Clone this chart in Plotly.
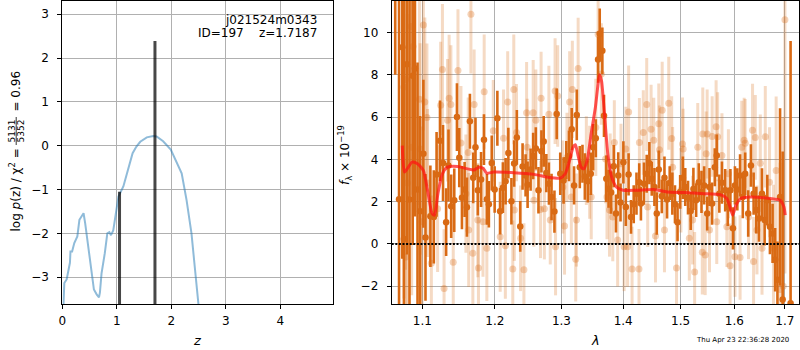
import math
import plotly.graph_objects as go

W, H = 800, 350
FONT = "DejaVu Sans"

# ---------------- left panel: log p(z) ----------------
pz_z = [0.00, 0.018, 0.037, 0.08, 0.14, 0.15, 0.18, 0.22, 0.276, 0.314,
        0.356, 0.39, 0.42, 0.48, 0.54, 0.58, 0.63, 0.673, 0.69, 0.72,
        0.78, 0.826, 0.863, 0.893, 0.935, 0.98, 1.03, 1.12, 1.21, 1.29,
        1.36, 1.43, 1.55, 1.67, 1.73, 1.85, 1.99, 2.10, 2.19, 2.28,
        2.37, 2.43, 2.50, 2.56]
pz_logp = [-4.3, -3.61, -3.13, -3.05, -2.67, -2.41, -2.41, -2.22, -2.07, -1.69,
           -1.62, -1.54, -1.77, -2.30, -2.91, -3.28, -3.39, -3.46, -3.35, -2.91,
           -2.45, -2.00, -1.97, -2.04, -1.93, -1.54, -1.16, -0.93, -0.55, -0.17,
           -0.02, 0.09, 0.19, 0.22, 0.21, 0.10, -0.09, -0.39, -0.63, -1.24,
           -2.00, -2.76, -3.61, -4.4]
peak_z = [1.05, 1.70]
peak_logp = [-1.05, 2.39]

left_xrange = [0, 4.972]
left_yrange = [-3.61, 3.30]
left_xticks = [0, 1, 2, 3, 4]
left_yticks = [-3, -2, -1, 0, 1, 2, 3]

# ---------------- right panel: spectrum ----------------
dark_wave = [1.0648, 1.0697, 1.0739, 1.0760, 1.0798, 1.0832, 1.0874, 1.0903, 1.0937, 1.0971,
             1.1014, 1.1042, 1.1107, 1.1153, 1.1190, 1.1236, 1.1277, 1.1319, 1.1351, 1.1388,
             1.1430, 1.1467, 1.1499, 1.1536, 1.1573, 1.1605, 1.1647, 1.1693, 1.1725, 1.1758,
             1.1804, 1.1845, 1.1887, 1.1915, 1.1956, 1.1998, 1.2037, 1.2077, 1.2117, 1.2157,
             1.2197, 1.2242, 1.2282, 1.2322, 1.2372, 1.2407, 1.2452, 1.2482, 1.2527, 1.2566,
             1.2606, 1.2646, 1.2691, 1.2726, 1.2766, 1.2806, 1.2846, 1.2891, 1.2926, 1.2981,
             1.3033, 1.3076, 1.3118, 1.3161, 1.3198, 1.3241, 1.3289, 1.3332, 1.3370, 1.3418,
             1.3466, 1.3504, 1.3547, 1.3584, 1.3611, 1.3654, 1.3681, 1.3719, 1.3756, 1.3799,
             1.3842, 1.3879, 1.3917, 1.3955, 1.4003, 1.4044, 1.4091, 1.4132, 1.4178, 1.4225,
             1.4272, 1.4301, 1.4354, 1.4401, 1.4447, 1.4488, 1.4535, 1.4576, 1.4611, 1.4664,
             1.4711, 1.4757, 1.4804, 1.4851, 1.4898, 1.4944, 1.4991, 1.5040, 1.5083, 1.5133,
             1.5182, 1.5231, 1.5281, 1.5330, 1.5380, 1.5429, 1.5485, 1.5528, 1.5577, 1.5627,
             1.5664, 1.5713, 1.5762, 1.5824, 1.5873, 1.5923, 1.5972, 1.6010, 1.6056, 1.6109,
             1.6162, 1.6208, 1.6267, 1.6320, 1.6373, 1.6426, 1.6479, 1.6538, 1.6591, 1.6644,
             1.6697, 1.6750, 1.6802, 1.6848, 1.6901, 1.6954, 1.7116]
dark_flux = [14.0, 2.11, 9.3, 0.23, 8.5, 2.1, 7.95, 8.3, 2.58, 1.55,
             4.27, 0.31, 1.31, 1.28, 3.29, 4.88, 3.83, 1.03, 3.71, 1.78,
             2.07, 6.0, 4.08, 2.19, 2.58, 1.74, 5.8, 3.13, 4.57, 2.54,
             3.05, 4.93, 2.11, 1.88, 3.83, 2.57, 5.95, 1.55, 2.66, 2.97,
             4.3, 2.02, 3.8, 5.04, 0.83, 3.66, 3.24, 2.8, 3.52, 4.16,
             4.52, 2.54, 4.38, 4.85, 3.35, 2.85, 2.22, 1.53, 6.15, 3.32,
             3.0, 3.97, 4.16, 5.43, 2.77, 6.1, 3.63, 3.79, 3.19, 2.96,
             3.32, 4.57, 5.0, 8.72, 9.94, 9.14, 6.06, 3.08, 2.61, 2.43,
             3.68, 1.44, 3.24, 1.96, 3.86, 1.75, 3.29, 1.28, 1.88, 2.38,
             2.92, 1.91, 2.85, 3.32, 3.82, 3.08, 2.69, 1.44, 3.52, 2.25,
             3.13, 2.1, 2.88, 2.38, 1.88, 1.03, 2.46, 3.13, 2.69, 2.19,
             1.56, 2.6, 2.07, 2.92, 2.46, 2.77, 1.44, 2.69, 1.91, 3.63,
             4.18, 2.38, 2.9, 2.54, 1.75, 2.54, 0.74, 2.77, 2.58, 3.24,
             2.22, 3.32, 1.44, 3.71, 2.38, 1.6, 1.2, 2.38, 1.13, 2.07,
             0.81, 0.5, -0.75, -1.69, 2.22, -2.63, -2.8]
dark_err = [6.0, 12.0, 10.0, 12.0, 9.0, 10.0, 8.0, 7.0, 6.0, 4.5,
            3.5, 3.0, 2.4, 2.2, 2.0, 1.9, 1.8, 1.6, 1.7, 1.5,
            1.5, 1.6, 1.4, 1.5, 1.3, 1.4, 1.3, 1.2, 1.4, 1.2,
            1.3, 1.2, 1.2, 1.1, 1.3, 1.1, 1.3, 1.1, 1.2, 1.1,
            1.2, 1.1, 1.1, 1.3, 1.2, 1.1, 1.0, 1.1, 1.0, 1.1,
            1.0, 1.1, 1.0, 1.2, 0.9, 1.0, 1.1, 1.0, 1.2, 1.0,
            1.1, 0.9, 1.2, 1.0, 0.9, 1.2, 1.0, 0.9, 1.1, 1.0,
            1.0, 1.1, 0.9, 1.1, 1.2, 1.1, 1.0, 1.1, 0.9, 1.0,
            1.0, 0.9, 1.1, 0.9, 1.0, 0.9, 1.0, 0.8, 0.9, 1.0,
            0.9, 0.8, 1.0, 0.9, 1.0, 0.8, 0.9, 1.0, 0.9, 0.8,
            1.0, 0.9, 0.8, 1.0, 0.9, 0.9, 0.8, 1.0, 0.9, 0.8,
            0.9, 1.0, 0.8, 0.9, 1.0, 0.9, 0.8, 0.9, 1.0, 0.9,
            1.0, 0.9, 1.0, 1.0, 0.9, 1.0, 1.0, 0.9, 1.0, 1.0,
            1.0, 1.0, 1.1, 1.0, 1.0, 1.1, 1.1, 1.2, 1.2, 1.2,
            1.3, 1.4, 1.5, 1.8, 4.2, 7.0, 12.4]

light_wave = [1.0760, 1.0781, 1.0785, 1.0803, 1.0853, 1.0860, 1.0878, 1.0962, 1.0971, 1.0996,
              1.1014, 1.1033, 1.1061, 1.1069, 1.1120, 1.1204, 1.1245, 1.1269, 1.1291, 1.1338,
              1.1360, 1.1384, 1.1416, 1.1481, 1.1522, 1.1591, 1.1623, 1.1630, 1.1661, 1.1688,
              1.1706, 1.1758, 1.1767, 1.1831, 1.1848, 1.1886, 1.1978, 1.2078, 1.2127, 1.2153,
              1.2187, 1.2262, 1.2277, 1.2285, 1.2317, 1.2377, 1.2427, 1.2467, 1.2476, 1.2566,
              1.2576, 1.2606, 1.2677, 1.2686, 1.2736, 1.2805, 1.2826, 1.2901, 1.2908, 1.2941,
              1.3021, 1.3048, 1.3086, 1.3128, 1.3155, 1.3171, 1.3224, 1.3236, 1.3263, 1.3394,
              1.3447, 1.3473, 1.3547, 1.3585, 1.3638, 1.3707, 1.3730, 1.3772, 1.3783, 1.3826,
              1.3852, 1.3907, 1.3963, 1.4015, 1.4044, 1.4074, 1.4092, 1.4150, 1.4268, 1.4275,
              1.4342, 1.4401, 1.4418, 1.4477, 1.4523, 1.4553, 1.4611, 1.4623, 1.4671, 1.4711,
              1.4787, 1.4839, 1.4856, 1.4925, 1.5004, 1.5033, 1.5045, 1.5157, 1.5217, 1.5254,
              1.5311, 1.5395, 1.5404, 1.5448, 1.5466, 1.5485, 1.5528, 1.5578, 1.5652, 1.5664,
              1.5681, 1.5762, 1.5855, 1.5885, 1.5917, 1.6010, 1.6109, 1.6142, 1.6188, 1.6208,
              1.6273, 1.6352, 1.6372, 1.6406, 1.6439, 1.6505, 1.6539, 1.6604, 1.6689, 1.6768,
              1.6822, 1.6901, 1.6966, 1.7000]
light_flux = [7.42, 7.78, -0.62, 2.88, 10.28, 4.57, 9.34, 6.84, 4.49, 1.05,
              10.36, 6.71, 5.98, 2.88, -0.91, 1.67, 6.56, 8.25, -2.11, 5.85,
              6.89, 6.6, -0.86, 8.2, 4.77, 2.38, 4.33, 0.66, 10.86, -0.44,
              6.6, 1.13, -1.14, 1.05, 7.2, -0.2, 5.35, 0.34, 5.0, -0.09,
              6.71, -1.19, 7.31, 1.6, 5.27, 0.27, -1.22, 6.2, 4.57, 6.2,
              2.07, 5.85, 1.63, 6.89, 1.67, 6.13, 1.13, 7.23, -0.13, 7.0,
              2.69, 0.85, 4.1, 6.71, 2.22, 7.31, -0.72, 1.13, 8.3, 3.94,
              3.39, 2.22, 5.51, 9.92, 8.04, 4.02, 2.22, 1.6, 3.32, 1.28,
              4.8, 0.19, 3.79, -0.13, 4.49, -0.13, 6.24, -1.19, -1.19, 4.8,
              5.27, 6.6, 1.75, 5.43, 4.91, 0.38, 5.69, 4.45, 6.32, 0.66,
              6.65, 4.99, 3.63, -1.14, 2.54, 4.73, 4.49, 0.27, 1.13, -1.33,
              4.57, -0.39, 5.2, -0.52, 4.26, 5.2, 0.66, 5.08, 5.54, 1.05,
              5.07, 4.18, 0.81, 3.32, -1.03, -0.6, -0.64, 4.57, 4.91, 4.76,
              1.28, 5.38, -0.83, 5.04, 0.66, 3.82, -0.2, 5.07, 2.92, -0.2,
              3.47, -2.16, -2.0, 10.6]
light_err = [10.0, 9.0, 9.0, 8.0, 8.0, 7.0, 7.0, 5.0, 5.0, 4.5,
             5.0, 4.0, 3.5, 3.5, 3.2, 3.0, 3.0, 3.1, 2.8, 2.9,
             3.0, 2.8, 2.6, 2.9, 2.7, 2.8, 2.6, 2.7, 2.8, 2.5,
             2.6, 2.7, 2.4, 2.6, 2.7, 2.5, 2.4, 2.6, 2.3, 2.5,
             2.4, 2.3, 2.6, 2.4, 2.3, 2.5, 2.2, 2.4, 2.3, 2.5,
             2.2, 2.4, 2.3, 2.2, 2.4, 2.3, 2.1, 2.5, 2.3, 2.4,
             2.2, 2.3, 2.1, 2.4, 2.2, 2.3, 2.0, 2.2, 2.4, 2.1,
             2.2, 2.0, 2.3, 2.2, 2.4, 2.1, 2.0, 2.2, 1.9, 2.1,
             2.0, 2.2, 1.9, 2.1, 2.0, 1.9, 2.2, 2.0, 1.9, 2.1,
             2.0, 2.2, 1.9, 2.1, 2.0, 2.2, 1.9, 2.1, 2.3, 2.0,
             2.2, 2.0, 1.9, 2.1, 2.0, 2.2, 1.9, 2.0, 2.1, 1.9,
             2.1, 2.0, 2.2, 1.9, 2.0, 2.1, 2.0, 1.9, 2.2, 2.0,
             2.1, 2.0, 1.9, 2.1, 2.0, 1.9, 2.0, 2.2, 2.0, 2.1,
             2.0, 2.2, 2.1, 2.0, 2.1, 2.3, 2.2, 2.4, 2.6, 3.0,
             3.5, 6.0, 8.0, 12.0]

model_wave = [1.0739, 1.0768, 1.0866, 1.0937, 1.1014, 1.1069, 1.1130, 1.1162, 1.1208, 1.1269,
              1.1338, 1.1476, 1.1615, 1.1706, 1.1776, 1.1837, 1.1882, 1.1983, 1.2281, 1.2581,
              1.2781, 1.2981, 1.3059, 1.3127, 1.3182, 1.3219, 1.3256, 1.3310, 1.3352, 1.3407,
              1.3471, 1.3540, 1.3609, 1.3641, 1.3685, 1.3744, 1.3808, 1.3889, 1.3997, 1.4231,
              1.4522, 1.4757, 1.5052, 1.5422, 1.5731, 1.5855, 1.5917, 1.5967, 1.6030, 1.6123,
              1.6307, 1.6703, 1.6901, 1.6980, 1.7006]
model_flux = [4.65, 3.40, 3.87, 3.79, 3.47, 2.54, 1.44, 1.36, 2.38, 3.32,
              3.63, 3.66, 3.55, 3.50, 3.63, 3.57, 3.35, 3.40, 3.37, 3.29,
              3.16, 3.11, 3.32, 3.94, 4.57, 4.69, 4.26, 3.63, 3.55, 3.94,
              5.20, 6.45, 8.00, 7.70, 6.29, 4.26, 3.16, 2.69, 2.54, 2.54,
              2.58, 2.46, 2.43, 2.38, 2.33, 2.15, 1.75, 1.36, 1.83, 2.15,
              2.22, 2.15, 2.07, 1.75, 1.36]

right_xrange = [1.0603, 1.7296]
right_yrange = [-2.84, 11.49]
right_xticks = [1.1, 1.2, 1.3, 1.4, 1.5, 1.6, 1.7]
right_xticklabels = ["1.1", "1.2", "1.3", "1.4", "1.5", "1.6", "1.7"]
right_yticks = [-2, 0, 2, 4, 6, 8, 10]

title_lines = ["j021524m0343", "ID=197\u00a0\u00a0\u00a0\u00a0z=1.7187"]
timestamp = "Thu Apr 23 22:36:28 2020"

assert len(dark_wave) == len(dark_flux) == len(dark_err)
assert len(light_wave) == len(light_flux) == len(light_err)
assert len(model_wave) == len(model_flux)
assert len(pz_z) == len(pz_logp)

# ---------------- geometry (pixels) ----------------
L_X0, L_X1 = 62.3, 333.3
R_X0, R_X1 = 391.7, 799.3
Y_TOP, Y_BOT = 1.0, 304.0


def fx(p):
    return p / W


def fy(p):
    return 1 - p / H


ORANGE = "rgb(217,106,20)"
ORANGE_LIGHT_BAR = "rgba(217,106,20,0.25)"
ORANGE_LIGHT_MK = "rgba(217,106,20,0.30)"

fig = go.Figure()

# left: p(z) curve
fig.add_trace(go.Scatter(x=pz_z, y=pz_logp, mode="lines",
                         line=dict(color="rgba(31,119,180,0.5)", width=2),
                         xaxis="x", yaxis="y", showlegend=False, hoverinfo="skip"))
# left: vertical peak markers
vx, vy = [], []
for z, top in zip(peak_z, peak_logp):
    vx += [z, z, None]
    vy += [left_yrange[0] - 1, top, None]
fig.add_trace(go.Scatter(x=vx, y=vy, mode="lines",
                         line=dict(color="rgba(0,0,0,0.72)", width=3),
                         xaxis="x", yaxis="y", showlegend=False, hoverinfo="skip"))

# right: light spectrum
fig.add_trace(go.Scatter(x=light_wave, y=light_flux, mode="markers",
                         marker=dict(color=ORANGE_LIGHT_MK, size=7, line=dict(width=0)),
                         error_y=dict(type="data", array=light_err, color=ORANGE_LIGHT_BAR,
                                      thickness=3, width=0),
                         xaxis="x2", yaxis="y2", showlegend=False, hoverinfo="skip"))
# right: dark spectrum
fig.add_trace(go.Scatter(x=dark_wave, y=dark_flux, mode="markers",
                         marker=dict(color=ORANGE, size=6.5, line=dict(width=0)),
                         error_y=dict(type="data", array=dark_err, color=ORANGE,
                                      thickness=2.6, width=0),
                         xaxis="x2", yaxis="y2", showlegend=False, hoverinfo="skip"))
# right: model
fig.add_trace(go.Scatter(x=model_wave, y=model_flux, mode="lines",
                         line=dict(color="rgba(255,20,20,0.72)", width=3,
                                   shape="spline", smoothing=0.6),
                         xaxis="x2", yaxis="y2", showlegend=False, hoverinfo="skip"))

axis_common = dict(showgrid=True, gridcolor="#b0b0b0", gridwidth=1,
                   showline=True, mirror=True, linecolor="black", linewidth=1,
                   ticks="outside", ticklen=4, tickwidth=1, tickcolor="black",
                   tickfont=dict(family=FONT, size=12, color="black"),
                   zeroline=False, fixedrange=True, automargin=False)

fig.update_layout(
    width=W, height=H,
    margin=dict(l=0, r=0, t=0, b=0, pad=0),
    paper_bgcolor="white", plot_bgcolor="white",
    font=dict(family=FONT, size=12, color="black"),
    xaxis=dict(domain=[fx(L_X0), fx(L_X1)], range=left_xrange, anchor="y",
               tickmode="array", tickvals=left_xticks, ticklabelstandoff=2, **axis_common),
    yaxis=dict(domain=[fy(Y_BOT), fy(Y_TOP)], range=left_yrange, anchor="x",
               tickmode="array", tickvals=left_yticks, ticklabelstandoff=6, **axis_common),
    xaxis2=dict(domain=[fx(R_X0), fx(R_X1)], type="log", anchor="y2",
                range=[math.log10(right_xrange[0]), math.log10(right_xrange[1])],
                tickmode="array", tickvals=right_xticks, ticktext=right_xticklabels,
                ticklabelstandoff=2, **axis_common),
    yaxis2=dict(domain=[fy(Y_BOT), fy(Y_TOP)], range=right_yrange, anchor="x2",
                tickmode="array", tickvals=right_yticks, ticklabelstandoff=6, **axis_common),
)

# zero line (dotted)
fig.add_shape(type="line", xref="x2 domain", yref="y2", x0=0, x1=1, y0=0, y1=0,
              line=dict(color="black", width=2, dash="2px,1.6px"), layer="above")

ann = []
# title text in left panel
ann.append(dict(x=fx(318.5), y=fy(19.5), xref="paper", yref="paper", text=title_lines[0],
                showarrow=False, xanchor="right", yanchor="middle",
                font=dict(family=FONT, size=12, color="black")))
ann.append(dict(x=fx(318.5), y=fy(33.0), xref="paper", yref="paper", text=title_lines[1],
                showarrow=False, xanchor="right", yanchor="middle",
                font=dict(family=FONT, size=12, color="black")))
# axis labels
ann.append(dict(x=fx((L_X0 + L_X1) / 2), y=fy(340), xref="paper", yref="paper",
                text="<i>z</i>", showarrow=False, xanchor="center", yanchor="middle",
                font=dict(family=FONT, size=13, color="black")))
ann.append(dict(x=fx((R_X0 + R_X1) / 2), y=fy(340), xref="paper", yref="paper",
                text="<i>λ</i>", showarrow=False, xanchor="center", yanchor="middle",
                font=dict(family=FONT, size=13, color="black")))
# left y label (composite, with stacked fraction)
ann.append(dict(x=fx(15), y=fy(147), xref="paper", yref="paper",
                text="log <i>p</i>(z) / χ<sup>2</sup> =", textangle=-90,
                showarrow=False, xanchor="center", yanchor="top",
                font=dict(family=FONT, size=12, color="black")))
ann.append(dict(x=fx(11.5), y=fy(131), xref="paper", yref="paper", text="5131",
                textangle=-90, showarrow=False, xanchor="center", yanchor="middle",
                font=dict(family=FONT, size=9, color="black")))
ann.append(dict(x=fx(20.5), y=fy(131), xref="paper", yref="paper", text="5352",
                textangle=-90, showarrow=False, xanchor="center", yanchor="middle",
                font=dict(family=FONT, size=9, color="black")))
ann.append(dict(x=fx(15), y=fy(114), xref="paper", yref="paper", text="= 0.96",
                textangle=-90, showarrow=False, xanchor="center", yanchor="bottom",
                font=dict(family=FONT, size=12, color="black")))
# right y label
ann.append(dict(x=fx(345), y=fy(155), xref="paper", yref="paper",
                text="<i>f</i><sub>λ</sub> × 10<sup>−19</sup>", textangle=-90,
                showarrow=False, xanchor="center", yanchor="middle",
                font=dict(family=FONT, size=12, color="black")))
# timestamp
ann.append(dict(x=fx(742), y=fy(340), xref="paper", yref="paper", text=timestamp,
                showarrow=False, xanchor="center", yanchor="middle",
                font=dict(family=FONT, size=7, color="black")))
fig.update_layout(annotations=ann)

# fraction bar
fig.add_shape(type="line", xref="paper", yref="paper",
              x0=fx(16.2), x1=fx(16.2), y0=fy(117), y1=fy(145),
              line=dict(color="black", width=0.8))

fig.write_html("out.html",
               config={"displayModeBar": False, "staticPlot": True},
               post_script="document.body.style.margin='0px';"
                           "document.body.style.padding='0px';"
                           "document.body.style.overflow='hidden';")
